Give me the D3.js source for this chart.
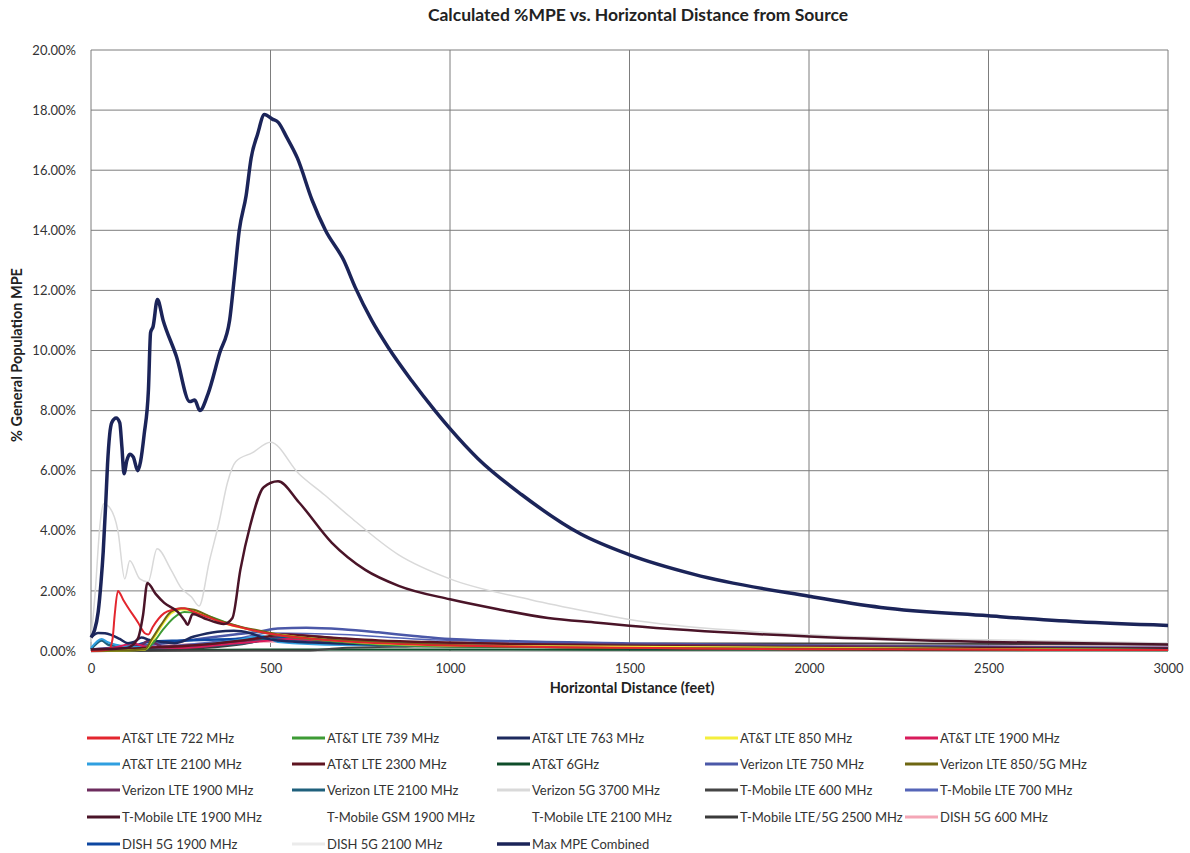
<!DOCTYPE HTML>
<html>

<head>
  <meta charset="utf-8">
  <title>Calculated %MPE vs. Horizontal Distance from Source</title>
  <script src="https://d3js.org/d3.v7.min.js"></script>
  <style>
    body { margin: 0; background: #fff; }
    text { font-family: Lato, "Open Sans", sans-serif; fill: #333; }
  </style>
</head>

<body>

  <script>
    // x = horizontal distance (feet), y = % of general population MPE
    const xTicks = [0, 500, 1000, 1500, 2000, 2500, 3000];
    const yTicks = [0, 2, 4, 6, 8, 10, 12, 14, 16, 18, 20];

    const att722 = [[0, 0], [50, 0.05], [60, 0.4], [66, 1.2], [75, 2.0], [90, 1.7], [103, 1.45], [131, 0.95], [149, 0.6], [160, 0.55], [172, 0.8], [204, 1.26], [227, 1.37], [260, 1.42], [280, 1.33], [320, 1.15], [380, 0.9], [430, 0.75], [486, 0.6], [600, 0.42], [1000, 0.18], [2000, 0.06], [3000, 0.03]];
    const att739 = [[0, 0], [150, 0.05], [175, 0.3], [200, 0.7], [230, 1.1], [260, 1.3], [300, 1.25], [400, 0.85], [486, 0.6], [700, 0.3], [1000, 0.15], [3000, 0.03]];
    const att763 = [[0, 0.45], [20, 0.6], [39, 0.59], [57, 0.53], [80, 0.4], [103, 0.26], [120, 0.3], [140, 0.45], [163, 0.37], [200, 0.3], [232, 0.26], [287, 0.48], [352, 0.64], [398, 0.67], [444, 0.59], [486, 0.42], [520, 0.35], [700, 0.25], [1000, 0.18], [1500, 0.1], [3000, 0.04]];
    const att850 = [[0, 0], [150, 0.04], [168, 0.3], [195, 0.8], [223, 1.25], [251, 1.38], [287, 1.34], [352, 1.0], [416, 0.78], [486, 0.62], [700, 0.33], [1000, 0.18], [3000, 0.03]];
    const att1900 = [[0, 0.02], [60, 0.1], [120, 0.25], [150, 0.15], [250, 0.1], [400, 0.25], [500, 0.35], [550, 0.4], [700, 0.3], [1000, 0.2], [3000, 0.05]];
    const att2100 = [[0, 0.1], [30, 0.4], [45, 0.3], [100, 0.15], [200, 0.1], [300, 0.2], [400, 0.35], [480, 0.5], [520, 0.3], [700, 0.2], [3000, 0.05]];
    const att2300 = [[0, 0.02], [150, 0.1], [300, 0.2], [500, 0.5], [520, 0.55], [600, 0.5], [700, 0.42], [800, 0.35], [1000, 0.28], [2000, 0.12], [3000, 0.08]];
    const att6g = [[0, 0.01], [500, 0.05], [3000, 0.02]];
    const vzw750 = [[0, 0.05], [100, 0.15], [200, 0.25], [300, 0.4], [400, 0.55], [470, 0.65], [520, 0.75], [600, 0.77], [700, 0.72], [800, 0.62], [900, 0.5], [1000, 0.4], [1500, 0.25], [2000, 0.18], [3000, 0.1]];
    const vzw850 = [[0, 0], [150, 0.05], [168, 0.37], [195, 0.87], [223, 1.31], [251, 1.42], [287, 1.37], [352, 1.03], [416, 0.81], [486, 0.64], [520, 0.55], [700, 0.35], [1000, 0.2], [1500, 0.1], [3000, 0.03]];
    const vzw1900 = [[0, 0.05], [140, 0.2], [160, 0.35], [200, 0.15], [300, 0.2], [500, 0.45], [550, 0.55], [700, 0.4], [1000, 0.25], [3000, 0.07]];
    const vzw2100 = [[0, 0.05], [30, 0.35], [50, 0.2], [150, 0.1], [300, 0.15], [450, 0.3], [500, 0.4], [700, 0.3], [1000, 0.2], [3000, 0.06]];
    const vzw3700 = [[0, 0.3], [12, 2.0], [25, 4.2], [35, 4.9], [50, 4.8], [75, 4.0], [94, 2.4], [108, 3.0], [136, 2.4], [159, 2.3], [184, 3.4], [223, 2.7], [251, 2.1], [280, 1.8], [301, 1.5], [330, 3.0], [357, 4.3], [380, 5.6], [403, 6.3], [450, 6.6], [500, 6.95], [579, 5.9], [650, 5.2], [718, 4.5], [857, 3.2], [1000, 2.4], [1227, 1.7], [1412, 1.25], [1500, 1.05], [1842, 0.65], [2200, 0.45], [2600, 0.35], [3000, 0.27]];
    const tmo600 = [[0, 0], [600, 0.02], [700, 0.1], [900, 0.15], [1200, 0.2], [1600, 0.25], [2000, 0.25], [3000, 0.22]];
    const tmo700 = [[0, 0.03], [200, 0.15], [400, 0.4], [500, 0.6], [700, 0.55], [900, 0.4], [1200, 0.3], [2000, 0.18], [3000, 0.12]];
    const tmo1900 = [[0, 0.05], [100, 0.1], [130, 0.4], [145, 1.2], [157, 2.26], [180, 1.9], [204, 1.6], [241, 1.31], [262, 1.0], [269, 0.87], [283, 1.23], [315, 1.09], [350, 0.95], [370, 0.9], [394, 1.1], [416, 2.7], [444, 4.2], [481, 5.45], [521, 5.65], [579, 4.95], [671, 3.6], [764, 2.7], [857, 2.17], [1000, 1.72], [1134, 1.39], [1273, 1.1], [1412, 0.94], [1500, 0.84], [2000, 0.48], [2500, 0.3], [3000, 0.22]];
    const tmoGsm1900 = [[0, 0], [500, 0.1], [3000, 0.02]];
    const tmo2100 = [[0, 0], [500, 0.1], [3000, 0.02]];
    const tmo2500 = [[0, 0], [300, 0.1], [450, 0.3], [500, 0.45], [600, 0.4], [700, 0.3], [1000, 0.15], [3000, 0.05]];
    const dish600 = [[0, 0], [100, 0.1], [300, 0.25], [500, 0.3], [800, 0.3], [1200, 0.25], [2000, 0.2], [3000, 0.15]];
    const dish1900 = [[0, 0.05], [100, 0.1], [160, 0.3], [250, 0.35], [400, 0.4], [500, 0.45], [700, 0.35], [1000, 0.22], [3000, 0.06]];
    const dish2100 = [[0, 0.05], [500, 0.3], [1000, 0.2], [3000, 0.05]];
    const maxCombined = [[0, 0.45], [10, 0.7], [20, 1.3], [28, 2.3], [34, 3.3], [41, 4.9], [46, 6.2], [52, 7.2], [58, 7.6], [70, 7.75], [80, 7.6], [86, 6.8], [92, 5.9], [100, 6.35], [108, 6.55], [118, 6.45], [130, 6.0], [138, 6.3], [148, 7.2], [160, 8.7], [166, 10.6], [173, 10.8], [185, 11.7], [201, 11.0], [238, 9.8], [275, 8.3], [289, 8.35], [303, 8.0], [326, 8.56], [358, 9.9], [386, 11.0], [399, 12.4], [413, 14.0], [432, 15.15], [446, 16.4], [464, 17.2], [483, 17.85], [505, 17.7], [521, 17.6], [545, 17.1], [575, 16.4], [616, 15.0], [653, 14.0], [704, 13.0], [736, 12.1], [782, 11.0], [828, 10.1], [893, 9.0], [958, 8.0], [1000, 7.4], [1078, 6.4], [1200, 5.2], [1363, 3.9], [1500, 3.2], [1680, 2.55], [2000, 1.82], [2200, 1.45], [2500, 1.17], [2750, 0.97], [3000, 0.85]];

    // legend order (row by row, five per row)
    const seriesNames = [
      'AT&T LTE 722 MHz', 'AT&T LTE 739 MHz', 'AT&T LTE 763 MHz', 'AT&T LTE 850 MHz', 'AT&T LTE 1900 MHz',
      'AT&T LTE 2100 MHz', 'AT&T LTE 2300 MHz', 'AT&T 6GHz', 'Verizon LTE 750 MHz', 'Verizon LTE 850/5G MHz',
      'Verizon LTE 1900 MHz', 'Verizon LTE 2100 MHz', 'Verizon 5G 3700 MHz', 'T-Mobile LTE 600 MHz', 'T-Mobile LTE 700 MHz',
      'T-Mobile LTE 1900 MHz', 'T-Mobile GSM 1900 MHz', 'T-Mobile LTE 2100 MHz', 'T-Mobile LTE/5G 2500 MHz', 'DISH 5G 600 MHz',
      'DISH 5G 1900 MHz', 'DISH 5G 2100 MHz', 'Max MPE Combined',
    ];
    const seriesValues = [
      att722, att739, att763, att850, att1900,
      att2100, att2300, att6g, vzw750, vzw850,
      vzw1900, vzw2100, vzw3700, tmo600, tmo700,
      tmo1900, tmoGsm1900, tmo2100, tmo2500, dish600,
      dish1900, dish2100, maxCombined,
    ];

    // styles, same order as above
    const colors = [
      '#e3262e', '#3d9b35', '#1d2a5e', '#f4ee3c', '#d81b5b',
      '#2f9fe0', '#5e1420', '#0e4d2a', '#4b58a8', '#6e6712',
      '#6d2c5e', '#1f607c', '#d9d9d9', '#454545', '#5565b8',
      '#4a1428', '#ffffff', '#ffffff', '#3a3a3a', '#f4a6b6',
      '#0d47a1', '#ebebeb', '#1b2459',
    ];
    const widths = [
      2, 2, 2.5, 2, 2,
      2, 2.5, 2, 2.5, 2,
      2.5, 2.5, 1.5, 2, 1.5,
      2.5, 2, 2, 2.5, 1.5,
      2.5, 1.5, 3.5,
    ];
    // drawing order: background series first, the big ones last
    const drawOrder = [16, 17, 21, 7, 19, 13, 18, 14, 8, 20, 10, 11, 5, 4, 6, 2, 1, 3, 9, 0, 12, 15, 22];

    const W = 1190;
    const H = 853;
    const m = { left: 91, right: 1168, top: 50, bottom: 651 };

    const svg = d3.select('body').append('svg')
      .attr('width', W)
      .attr('height', H);

    const x = d3.scaleLinear().domain([0, 3000]).range([m.left, m.right]);
    const y = d3.scaleLinear().domain([0, 20]).range([m.bottom, m.top]);

    // title
    svg.append('text')
      .attr('x', 638)
      .attr('y', 21)
      .attr('text-anchor', 'middle')
      .style('font-size', '17.5px')
      .style('font-weight', 'bold')
      .style('fill', '#222')
      .text('Calculated %MPE vs. Horizontal Distance from Source');

    // grid
    svg.append('g')
      .selectAll('line')
      .data(yTicks)
      .join('line')
      .attr('x1', m.left)
      .attr('x2', m.right)
      .attr('y1', d => y(d))
      .attr('y2', d => y(d))
      .attr('stroke', '#7d7d7d')
      .attr('stroke-width', 1);

    svg.append('g')
      .selectAll('line')
      .data(xTicks)
      .join('line')
      .attr('x1', d => x(d))
      .attr('x2', d => x(d))
      .attr('y1', m.top)
      .attr('y2', m.bottom)
      .attr('stroke', '#7d7d7d')
      .attr('stroke-width', 1);

    // axes (labels only, the grid does the lines)
    const yAxis = svg.append('g')
      .attr('transform', `translate(${m.left - 12},0)`)
      .call(d3.axisLeft(y).tickValues(yTicks).tickSize(0).tickFormat(d => d.toFixed(2) + '%'));
    yAxis.select('.domain').remove();
    yAxis.selectAll('text').style('font-size', '13px').style('font-family', 'Lato, sans-serif').attr('fill', '#333');

    const xAxis = svg.append('g')
      .attr('transform', `translate(0,${m.bottom + 10})`)
      .call(d3.axisBottom(x).tickValues(xTicks).tickSize(0).tickFormat(d3.format('d')));
    xAxis.select('.domain').remove();
    xAxis.selectAll('text').style('font-size', '13px').style('font-family', 'Lato, sans-serif').attr('fill', '#333');

    svg.append('text')
      .attr('transform', 'translate(22,355) rotate(-90)')
      .attr('text-anchor', 'middle')
      .style('font-size', '14.5px')
      .style('font-weight', 'bold')
      .style('fill', '#222')
      .text('% General Population MPE');

    svg.append('text')
      .attr('x', 632)
      .attr('y', 693)
      .attr('text-anchor', 'middle')
      .style('font-size', '14.5px')
      .style('font-weight', 'bold')
      .style('fill', '#222')
      .text('Horizontal Distance (feet)');

    // series
    const line = d3.line()
      .x(d => x(d[0]))
      .y(d => y(d[1]))
      .curve(d3.curveMonotoneX);

    svg.append('g')
      .selectAll('path')
      .data(drawOrder)
      .join('path')
      .attr('d', i => line(seriesValues[i]))
      .attr('fill', 'none')
      .attr('stroke', i => colors[i])
      .attr('stroke-width', i => widths[i])
      .attr('stroke-linejoin', 'round');

    // legend
    const colX = [87, 292, 497, 705, 905];
    const rowY = [738, 764, 790, 817, 844];

    const lg = svg.append('g')
      .selectAll('g')
      .data(seriesNames)
      .join('g')
      .attr('transform', (d, i) => `translate(${colX[i % 5]},${rowY[Math.floor(i / 5)]})`);

    lg.append('line')
      .attr('x1', 0)
      .attr('x2', 33)
      .attr('y1', 0)
      .attr('y2', 0)
      .attr('stroke', (d, i) => colors[i])
      .attr('stroke-width', (d, i) => Math.max(3, widths[i]));

    lg.append('text')
      .attr('x', 35)
      .attr('y', 4.5)
      .style('font-size', '13px')
      .text(d => d);
  </script>

</body>

</html>
